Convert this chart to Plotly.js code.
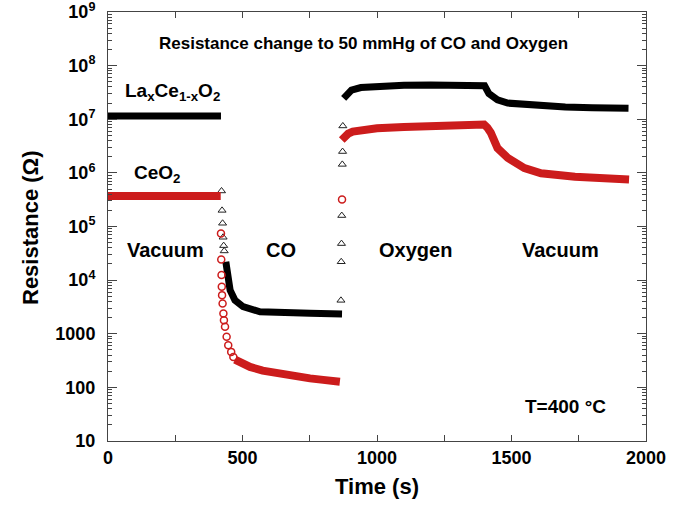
<!DOCTYPE html>
<html>
<head>
<meta charset="utf-8">
<script src="https://cdn.plot.ly/plotly-3.0.1.min.js"></script>
<style>html,body{margin:0;padding:0;background:#fff;}#chart{width:686px;height:515px;}</style>
</head>
<body>
<div id="chart"></div>
<script>
// La_xCe_{1-x}O_2 (black triangles) - dense stretches drawn as a thick band, null separates stretches
var laDenseTime = [0, 100, 200, 300, 420, null,
  438, 441, 447, 454, 472, 502, 565, 627, 751, 870, null,
  876, 890, 905, 940, 1000, 1100, 1200, 1300, 1390, 1400, 1416, 1430, 1448, 1486, 1550, 1611, 1700, 1800, 1935];
var laDenseRes = [1.15e7, 1.15e7, 1.15e7, 1.15e7, 1.15e7, null,
  2.2e4, 1.5e4, 1.0e4, 6500, 4200, 3200, 2570, 2450, 2400, 2330, null,
  2.45e7, 3.1e7, 3.5e7, 3.9e7, 4.1e7, 4.3e7, 4.35e7, 4.4e7, 4.45e7, 4.2e7, 3.0e7, 2.6e7, 2.3e7, 2.0e7, 1.88e7, 1.79e7, 1.7e7, 1.64e7, 1.6e7];
// La_xCe_{1-x}O_2 isolated points during the fast transitions
var laSparseTime = [422, 424, 426, 428, 430, 432, 866, 867, 868, 869, 871, 872, 873];
var laSparseRes = [4.6e5, 2.0e5, 1.15e5, 6.3e4, 4.4e4, 3.5e4, 4200, 2.2e4, 4.8e4, 1.6e5, 1.44e6, 2.5e6, 7.5e6];

// CeO2 (red circles)
var ceDenseTime = [0, 100, 200, 300, 419, null,
  472, 500, 528, 575, 627, 700, 751, 800, 862, null,
  869, 880, 893, 910, 943, 1000, 1100, 1234, 1300, 1398, 1410, 1423, 1448, 1486, 1548, 1610, 1736, 1850, 1937];
var ceDenseRes = [3.7e5, 3.7e5, 3.7e5, 3.7e5, 3.7e5, null,
  330, 280, 241, 205, 182, 160, 147, 138, 127, null,
  4.1e6, 4.8e6, 5.4e6, 5.9e6, 6.4e6, 6.8e6, 7.2e6, 7.5e6, 7.7e6, 8.0e6, 7.0e6, 5.6e6, 2.9e6, 1.9e6, 1.23e6, 9.8e5, 8.5e5, 7.8e5, 7.5e5];
var ceSparseTime = [420, 421, 422, 423, 424, 426, 429, 431, 435, 441, 447, 458, 466, 870];
var ceSparseRes = [7.4e4, 2.43e4, 1.24e4, 7500, 5250, 3670, 2390, 1790, 1345, 875, 613, 459, 370, 3.2e5];

var xTickVals = [0, 250, 500, 750, 1000, 1250, 1500, 1750, 2000];
var xTickText = ['0', '', '500', '', '1000', '', '1500', '', '2000'];
var yTickVals = [10, 100, 1000, 1e4, 1e5, 1e6, 1e7, 1e8, 1e9];
var yTickText = ['10', '100', '1000', '10<sup>4</sup>', '10<sup>5</sup>', '10<sup>6</sup>', '10<sup>7</sup>', '10<sup>8</sup>', '10<sup>9</sup>'];

var RED = '#cc1c1c';
var minorY = [];
for (var d = 1; d < 9; d++) { for (var k = 2; k <= 9; k++) { minorY.push(k * Math.pow(10, d)); } }

var traces = [
  {x: laDenseTime, y: laDenseRes, mode: 'lines', line: {color: '#000', width: 7}, connectgaps: false, hoverinfo: 'skip', showlegend: false},
  {x: laSparseTime, y: laSparseRes, mode: 'markers', marker: {symbol: 'triangle-up-open', size: 7, color: '#222', line: {width: 1}}, showlegend: false},
  {x: ceDenseTime, y: ceDenseRes, mode: 'lines', line: {color: RED, width: 8}, connectgaps: false, hoverinfo: 'skip', showlegend: false},
  {x: ceSparseTime, y: ceSparseRes, mode: 'markers', marker: {symbol: 'circle-open', size: 7, color: RED, line: {width: 1.5}}, showlegend: false},
  {x: [], y: [], yaxis: 'y2', mode: 'markers', showlegend: false, hoverinfo: 'skip'}
];

var F = 'Liberation Sans, Arial, Helvetica, sans-serif';
function ann(text, px, py, size, angle) {
  return {text: text, xref: 'paper', yref: 'paper', x: (px - 108) / 538, y: (441 - py) / 429,
    xanchor: 'center', yanchor: 'middle', showarrow: false, textangle: angle || 0,
    font: {family: F, size: size || 17, color: '#000', weight: 'bold'}};
}
var YR = [0.9999, 9.0001];

var layout = {
  width: 686, height: 515,
  margin: {l: 108, r: 40, t: 12, b: 74},
  paper_bgcolor: '#fff', plot_bgcolor: '#fff',
  xaxis: {
    range: [0, 2000], showgrid: false, zeroline: false,
    showline: true, linecolor: '#444', linewidth: 1, mirror: 'ticks',
    ticks: 'inside', ticklen: 6, tickcolor: '#444',
    tickmode: 'array', tickvals: xTickVals, ticktext: xTickText,
    tickfont: {family: F, size: 18, color: '#000', weight: 'bold'},
    title: {text: 'Time (s)', font: {family: F, size: 22, color: '#000', weight: 'bold'}, standoff: 12}
  },
  yaxis: {
    type: 'log', range: YR, showgrid: false, zeroline: false,
    showline: true, linecolor: '#444', linewidth: 1, mirror: 'ticks',
    ticks: 'inside', ticklen: 9, tickcolor: '#444',
    tickmode: 'array', tickvals: yTickVals, ticktext: yTickText,
    tickfont: {family: F, size: 18, color: '#000', weight: 'bold'},
    ticklabelstandoff: 8, ticklabeloverflow: 'allow'
  },
  yaxis2: {
    type: 'log', range: YR, overlaying: 'y', anchor: 'x', side: 'left',
    showgrid: false, zeroline: false, showline: true, linecolor: '#444', linewidth: 1, mirror: 'ticks',
    ticks: 'inside', ticklen: 4, tickcolor: '#444',
    tickmode: 'array', tickvals: minorY, showticklabels: false
  },
  annotations: [
    ann('Resistance (Ω)', 30, 228, 22, -90),
    ann('Resistance change to 50 mmHg of CO and Oxygen', 363, 43, 17),
    ann('La<sub>x</sub>Ce<sub>1-x</sub>O<sub>2</sub>', 172, 92, 19),
    ann('CeO<sub>2</sub>', 157, 174, 19),
    ann('Vacuum', 165, 250, 20),
    ann('CO', 281, 250, 20),
    ann('Oxygen', 415, 250, 20),
    ann('Vacuum', 560, 250, 20),
    ann('T=400 °C', 565, 406, 19)
  ]
};

Plotly.newPlot('chart', traces, layout, {displayModeBar: false, staticPlot: true});
</script>
</body>
</html>
